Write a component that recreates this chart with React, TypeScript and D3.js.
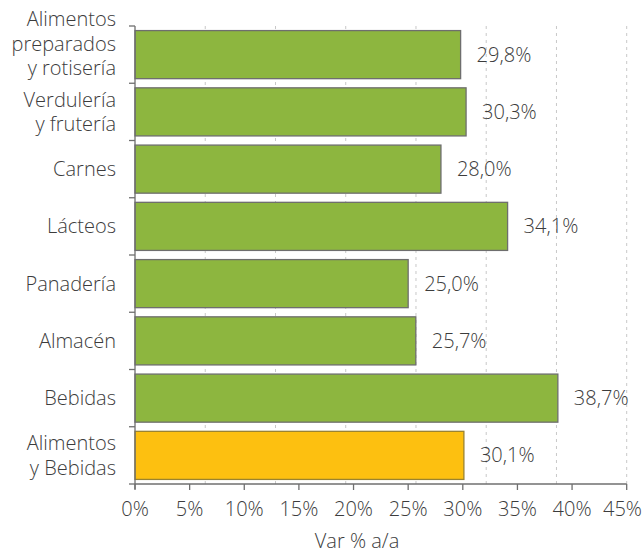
import React from "react";
import * as d3 from "d3";

const categories: string[][] = [
  ["Alimentos", "preparados", "y rotisería"],
  ["Verdulería", "y frutería"],
  ["Carnes"],
  ["Lácteos"],
  ["Panadería"],
  ["Almacén"],
  ["Bebidas"],
  ["Alimentos", "y Bebidas"],
];
const values: number[] = [29.8, 30.3, 28.0, 34.1, 25.0, 25.7, 38.7, 30.1];
const valueLabels: string[] = ["29,8%", "30,3%", "28,0%", "34,1%", "25,0%", "25,7%", "38,7%", "30,1%"];
const xTicks: number[] = [0, 5, 10, 15, 20, 25, 30, 35, 40, 45];
const xTitle = "Var % a/a";

const W = 643;
const H = 553;
const left = 135;
const right = 626.7;
const top = 26;
const bottom = 484;
const font = "'Open Sans', sans-serif";
const fs = 20;
const textColor = "#3c3c3c";
const axisColor = "#6f6f6f";

export default function App() {
  const x = d3.scaleLinear().domain([0, 45]).range([left, right]);
  const idx = categories.map((_, i) => String(i));
  const y = d3.scaleBand().domain(idx).range([top, bottom]).paddingInner(0.16).paddingOuter(0.08);
  const step = (bottom - top) / categories.length;
  const gridX = d3.range(1, 8).map((k) => left + ((right - left) * k) / 7);
  const boundaries = d3.range(0, categories.length + 1).map((k) => top + k * step);
  const lineH = 24.5;

  return (
    <svg width={W} height={H} style={{ position: "absolute", left: 0, top: 0 }}>
      <rect width={W} height={H} fill="#fff" />
      {gridX.map((gx, i) => (
        <line key={i} x1={gx} x2={gx} y1={top} y2={bottom} stroke="#c8c8c8" strokeWidth={1} strokeDasharray="3,4" />
      ))}
      {values.map((v, i) => {
        const last = i === values.length - 1;
        return (
          <rect
            key={i}
            x={x(0)}
            y={y(String(i))!}
            width={x(v) - x(0)}
            height={y.bandwidth()}
            fill={last ? "#fdc010" : "#8db63f"}
            stroke={last ? "#9a8330" : "#6e6e6e"}
            strokeWidth={1.3}
          />
        );
      })}
      {values.map((v, i) => (
        <text
          key={i}
          x={x(v) + 16}
          y={y(String(i))! + y.bandwidth() / 2}
          dy="0.35em"
          fontFamily={font}
          fontWeight={300}
          fontSize={fs}
          fill={textColor}
        >
          {valueLabels[i]}
        </text>
      ))}
      {/* y axis */}
      <line x1={left} x2={left} y1={top} y2={bottom + 5} stroke={axisColor} strokeWidth={1.3} />
      {boundaries.map((b, i) => (
        <line key={i} x1={left - 6} x2={left} y1={b} y2={b} stroke={axisColor} strokeWidth={1.3} />
      ))}
      {categories.map((lines, i) => {
        const cy = y(String(i))! + y.bandwidth() / 2;
        const shift = lines.length > 2 ? -11 : 0;
        const startY = cy - ((lines.length - 1) * lineH) / 2 + shift;
        return (
          <text
            key={i}
            textAnchor="end"
            fontFamily={font}
            fontWeight={300}
            fontSize={fs}
            fill={textColor}
          >
            {lines.map((l, j) => (
              <tspan key={j} x={116} y={startY + j * lineH} dy="0.35em">
                {l}
              </tspan>
            ))}
          </text>
        );
      })}
      {/* x axis */}
      <line x1={left} x2={right} y1={bottom} y2={bottom} stroke={axisColor} strokeWidth={1.3} />
      {xTicks.map((t, i) => {
        const isLast = i === xTicks.length - 1;
        return (
          <g key={i}>
            <line x1={x(t)} x2={x(t)} y1={bottom} y2={bottom + 6} stroke={axisColor} strokeWidth={1.3} />
            <text
              x={isLast ? W - 1 : x(t)}
              y={bottom + 25}
              dy="0.35em"
              textAnchor={isLast ? "end" : "middle"}
              fontFamily={font}
              fontWeight={300}
              fontSize={fs}
              fill={textColor}
            >
              {t + "%"}
            </text>
          </g>
        );
      })}
      <text x={357} y={541} dy="0.35em" textAnchor="middle" fontFamily={font} fontWeight={300} fontSize={fs} fill={textColor}>
        {xTitle}
      </text>
    </svg>
  );
}
